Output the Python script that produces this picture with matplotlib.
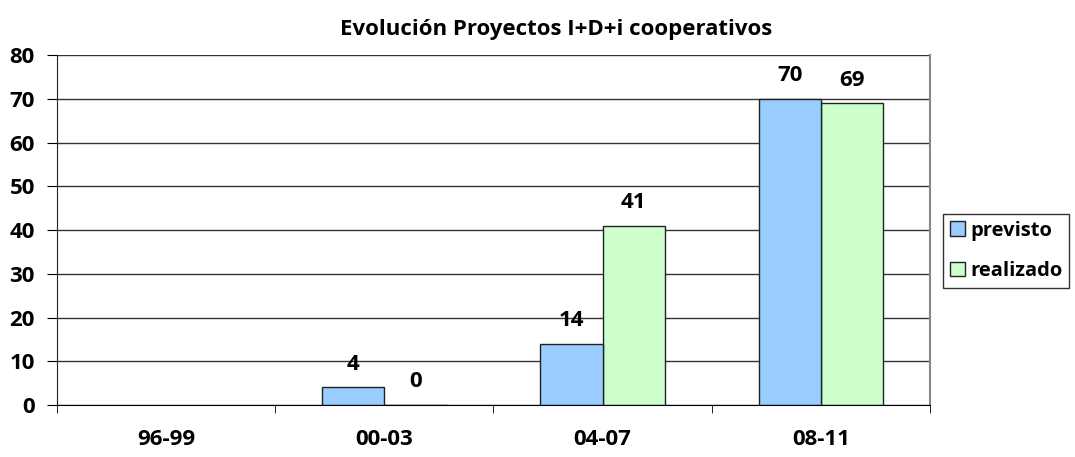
import numpy as np
import matplotlib
matplotlib.use('Agg')
import matplotlib.pyplot as plt

# Datos del gráfico
periodos = ['96-99', '00-03', '04-07', '08-11']
previsto = [np.nan, 4, 14, 70]
realizado = [np.nan, 0, 41, 69]
previstoEtiquetas = ['', '4', '14', '70']
realizadoEtiquetas = ['', '0', '41', '69']

plt.rcParams['font.family'] = ['Open Sans', 'DejaVu Sans']
plt.rcParams['font.weight'] = 'bold'

fig = plt.figure(figsize=(10.75, 4.57), dpi=100)
ax = fig.add_axes([0.053, 0.1138, 0.812, 0.7658])

x = np.arange(len(periodos))
anchoBarra = 0.285
ax.bar(x - anchoBarra / 2, previsto, anchoBarra, color='#99CCFF', edgecolor='#222222', linewidth=1, label='previsto', zorder=3)
ax.bar(x + anchoBarra / 2, realizado, anchoBarra, color='#CCFFCC', edgecolor='#222222', linewidth=1, label='realizado', zorder=2)

# Etiquetas de valor sobre las barras
for i in range(len(periodos)):
    if previstoEtiquetas[i]:
        ax.annotate(previstoEtiquetas[i], (x[i] - anchoBarra / 2, previsto[i]), xytext=(0, 9),
                    textcoords='offset points', ha='center', va='bottom', fontsize=16, fontweight='bold')
    if realizadoEtiquetas[i]:
        ax.annotate(realizadoEtiquetas[i], (x[i] + anchoBarra / 2, realizado[i]), xytext=(0, 9),
                    textcoords='offset points', ha='center', va='bottom', fontsize=16, fontweight='bold')

ax.set_xlim(-0.5, len(periodos) - 0.5)
ax.set_ylim(0, 80)
ax.set_yticks(np.arange(0, 81, 10))
ax.yaxis.grid(True, color='#333333', linewidth=1, zorder=0)
ax.set_axisbelow(True)

ax.set_xticks(x)
ax.set_xticklabels(periodos)
ax.set_xticks(np.arange(-0.5, len(periodos), 1), minor=True)
ax.tick_params(axis='x', which='major', length=0, pad=17, labelsize=16)
ax.tick_params(axis='x', which='minor', length=6, direction='out', color='black')
ax.tick_params(axis='y', length=7, direction='out', labelsize=16, pad=9)

ax.spines['top'].set_visible(False)
ax.spines['right'].set_color('#888888')
ax.spines['right'].set_linewidth(1.5)
ax.spines['left'].set_color('#222222')
ax.spines['bottom'].set_color('black')
ax.spines['bottom'].set_zorder(4)

fig.text(0.517, 0.935, 'Evolución Proyectos I+D+i cooperativos', ha='center', va='center',
         fontsize=16, fontweight='bold')

leg = fig.legend(loc='center left', bbox_to_anchor=(0.877, 0.451), frameon=True, fancybox=False,
                 edgecolor='black', fontsize=14.5, handlelength=0.75, handleheight=0.75,
                 handletextpad=0.25, borderpad=0.35, borderaxespad=0, labelspacing=1.0)
leg.get_frame().set_linewidth(1)

fig.savefig('out.png', dpi=100)
